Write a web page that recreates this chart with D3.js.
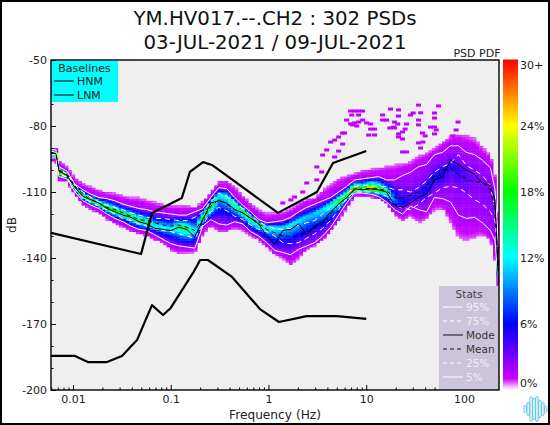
<!DOCTYPE html>
<html><head><meta charset="utf-8">
<script src="https://cdn.jsdelivr.net/npm/d3@7"></script>
<style>html,body{margin:0;padding:0;background:#fff}svg{display:block}text{font-family:"DejaVu Sans",sans-serif;fill:#222}</style>
</head><body><div id="c"></div>
<script>
const titleLines=["YM.HV017.--.CH2 : 302 PSDs","03-JUL-2021 / 09-JUL-2021"];
const freqs=[0.00596,0.0067,0.00719,0.00868,0.01048,0.01265,0.01527,0.01843,0.02225,0.02686,0.03242,0.03913,0.04723,0.0570,0.0688,0.0831,0.1003,0.1210,0.1461,0.1763,0.2128,0.2569,0.3101,0.3743,0.4518,0.5453,0.6583,0.7946,0.9591,1.158,1.398,1.687,2.036,2.458,2.967,3.581,4.323,5.218,6.298,7.602,9.176,11.08,13.37,16.14,19.48,23.51,28.38,34.26,41.35,49.91,60.25,72.72,87.78,105.9,127.9,154.4,186.3,207.5,225];
const envTop=[-89.5,-90,-95.5,-98.5,-103.5,-106,-107.5,-109,-110,-110.5,-111.5,-112.5,-112.5,-113.5,-114.5,-115.5,-116,-116,-116,-117,-114,-110,-105,-104.5,-107.5,-111.5,-115,-118,-119.5,-119.5,-119,-117.5,-115,-113,-112.5,-109,-106.5,-103.5,-102.5,-101.5,-100,-99.5,-99,-98,-97.5,-97,-96,-93.5,-92,-90,-87,-84.5,-83.5,-84,-85.5,-89.5,-93,-102.5,-120.5];
const p95=[-90.5,-91,-98.5,-100.5,-106.5,-109,-111,-112.5,-113,-114,-115.5,-116.5,-117.5,-118,-119,-119.5,-120,-120.5,-120.5,-119,-117.5,-112.5,-108,-108.5,-112.5,-116,-119,-122.5,-124,-123.5,-123,-121.5,-119,-117,-115.5,-114,-112.5,-110,-107.5,-104.5,-104,-103.5,-103,-104.5,-104.5,-102.5,-101,-98.5,-97.5,-93,-92,-89,-89,-92,-93,-95.5,-99,-109,-134];
const p75=[-91.5,-92,-100,-101.5,-107,-110,-112.5,-114.5,-116,-117,-118,-119.5,-120.5,-121.5,-122,-122,-122.5,-123,-123,-121.5,-119,-114.5,-110.5,-112,-115,-117.5,-120.5,-123.5,-125.5,-126.5,-127,-126.5,-125,-124,-123,-120,-117,-113.5,-111,-107.5,-107,-107,-107.5,-107.5,-109,-109,-110,-108,-105,-101,-98.5,-97,-93,-98,-100,-102.5,-107,-118,-142];
const meanDb=[-92,-92.5,-100,-102,-107.5,-111,-113.5,-115,-117,-118,-119.5,-121,-122.5,-123,-124,-125,-125.5,-125,-126,-127.5,-122.5,-116.5,-113.5,-115.5,-118,-119.5,-122,-124.5,-127,-128.5,-130,-130,-130,-128,-126.5,-124.5,-120,-115.5,-112.5,-109,-108.5,-108.5,-108.5,-109.5,-112.5,-112.5,-111.5,-110,-107,-102.5,-100,-99,-102,-104,-105.5,-105.5,-109,-117,-145.5];
const modeDb=[-92.5,-92.5,-100.5,-102.5,-108,-112,-113.5,-115,-117.5,-119,-120.5,-121.5,-123.5,-124.5,-126.5,-127,-127.5,-126,-127,-130.5,-122.5,-115,-114,-115,-118,-119.5,-122,-124.5,-130,-134,-127.5,-127,-124.5,-129.5,-125.5,-123.5,-119,-115.5,-112.5,-108.5,-109,-108.5,-109,-110,-116,-117,-115,-112.5,-111,-104.5,-103,-95.5,-97.5,-100,-102,-106,-107,-113.5,-152];
const p25=[-93,-93,-101.5,-103.5,-108.5,-113,-114.5,-116.5,-118,-120,-122,-123,-124.5,-125.5,-126.5,-127.5,-128,-129,-130,-131,-125,-119,-117,-118.5,-121,-122.5,-125,-127,-128,-130,-133,-133.5,-133,-131,-129,-126.5,-123,-118,-113,-110,-110,-110,-110.5,-112,-115.5,-117.5,-118,-115.5,-112.5,-110.5,-108,-107.5,-108,-110.5,-113.5,-115.5,-119,-123,-148.5];
const p5=[-94.5,-94.5,-103,-104,-110,-114,-116,-117.5,-120,-122,-123.5,-125.5,-127,-127.5,-129.5,-131.5,-133.5,-134.5,-135,-135.5,-125.5,-122.5,-124.5,-125,-123.5,-124.5,-128,-130,-133,-136.5,-137.5,-138.5,-136,-134.5,-133,-130,-126,-120.5,-115,-110.5,-110.5,-111,-112,-114.5,-118,-120,-116.5,-118,-119,-112.5,-113,-114.5,-120.5,-122,-121.5,-124,-127.5,-132,-152];
const envBottom=[-96,-96.5,-105,-105.5,-111.5,-116,-118,-120,-122.5,-124.5,-126,-128,-129,-130,-132,-133,-136.5,-138,-137.5,-137.5,-129.5,-125.5,-128,-128,-126.5,-127.5,-130,-132,-135,-138.5,-140,-143.5,-140,-136,-134.5,-132,-128,-123,-117.5,-111.8,-112,-112.5,-113,-115.5,-120.5,-123,-121,-124,-122,-118,-117.5,-124,-131,-132,-131,-129.5,-132,-142,-154.5];
const ridgeDb=[-92.3,-92.5,-100.3,-102.3,-107.8,-111.5,-113.5,-115,-117.2,-118.5,-120,-121.2,-123,-124,-125.5,-126,-126.5,-125.5,-126.5,-128,-121,-116,-111,-111.5,-115,-118,-122,-124,-125.9,-126,-126,-124.5,-122.7,-120.9,-119.5,-117.7,-115.5,-113.6,-111.4,-108.6,-108.7,-108.5,-108.7,-109.7,-114,-115,-113.5,-111.5,-109,-103.5,-101.5,-97.5,-100,-102,-103.5,-105.7,-108,-115,-149];
const peakPct=[30,30,30,27,20,20,21,19,20,19,17,18,17,16,13,13,12,16,17,12,18,19,12,13,16,18,17,16,14,13,12,12,12,11,11,12,14,18,19,29,20,29,21,16,9,6,5,5,6,6,6,5,5,4,3,3,3,4,8];
const outlierFreq=[6.92,7.6,8.35,9.18,7.1,8.35,6.3,6.92,7.6,8.35,9.18,10.08,11.08,7.2,8.0,11.08,12.17,10.6,12.17,5.73,5.22,6.0,4.32,4.75,5.73,3.94,5.22,3.58,4.75,17.73,21.4,21.4,28.38,30.2,34.2,36,54.83,49.91,49.91,14.69,14.69,16.14,19.48,21,25.83,34.26,34.26,45.43,49.91,19.48,17.4,19,25,23.5,21.4,21.4,23.51,37.63,40,52,49.91,87,83,77,34.26,38,36,23.51,25.83,1.4,1.69,1.85,2.24,2.46,3.12,3.5,3.12];
const outlierDb=[-73.2,-73.2,-73.2,-73.2,-75,-75,-77.3,-79,-78.6,-78.2,-77.3,-78.6,-79.1,-79.5,-80,-81.4,-81.4,-84.1,-84.1,-83.2,-85,-83.2,-87.3,-86.4,-88.2,-90.9,-91.4,-93.2,-94.1,-72.3,-72.7,-75.5,-75,-74.1,-70.5,-74,-70.9,-74.1,-76.4,-75,-77.3,-77.3,-78.2,-79.1,-79.1,-77.3,-79.5,-80.5,-80.5,-80.9,-80.9,-80.5,-81.4,-82.7,-83.6,-85,-85.9,-83.2,-84.5,-81.8,-83.6,-78.2,-81.8,-84.5,-87.7,-87.3,-90,-91.8,-91.8,-115,-113.6,-112.3,-110,-105.9,-98.6,-100.9,-104.5];
const hnmFreq=[0.00596,0.0497,0.0643,0.130,0.157,0.214,0.264,1.25,3.13,4.57,10];
const hnmDb=[-128.6,-138.2,-119.5,-112.7,-100.9,-96.4,-97.7,-119.5,-110,-96.8,-91.4];
const lnmFreq=[0.00596,0.0105,0.0142,0.0223,0.0317,0.0452,0.0643,0.0834,0.1,0.169,0.2,0.24,0.424,0.818,1.28,2.46,5,10];
const lnmDb=[-184.5,-184.5,-187.3,-187.3,-184.5,-177.3,-161.4,-165.9,-162.7,-146.8,-140.9,-140.9,-148.6,-163.2,-169.1,-166.4,-166.4,-167.7];
const xMajor=[0.01,0.1,1,10,100];
const xMinor=[0.006,0.007,0.008,0.009,0.02,0.03,0.04,0.05,0.06,0.07,0.08,0.09,0.2,0.3,0.4,0.5,0.6,0.7,0.8,0.9,2,3,4,5,6,7,8,9,20,30,40,50,60,70,80,90,200];
const xLabels=["0.01","0.1","1","10","100"];
const yMajor=[-50,-80,-110,-140,-170,-200];
const yMinor=[-60,-70,-90,-100,-120,-130,-150,-160,-180,-190];
const cbTicks=[30,24,18,12,6,0];
const cbLabels=["30+","24%","18%","12%","6%","0%"];
const cmapStops=[0,1,6,12,18,24,30];
const cmapColors=["#ffffff","#cc00ff","#0000ff","#00ffff","#00ff00","#ffff00","#ff0000"];
const baseNames=["HNM","LNM"];
const statNames=["95%","75%","Mode","Mean","25%","5%"];
const logoHeights=[7,13,24,21,25,17,13,6];

const W=550,H=425,L=51,R=499,T=60,B=390;
const svg=d3.select("#c").append("svg").attr("width",W).attr("height",H);
const x=d3.scaleLog().domain([0.00596,228]).range([L,R]);
const y=d3.scaleLinear().domain([-200,-50]).range([B,T]);
const color=d3.scaleLinear().domain(cmapStops).range(cmapColors).clamp(true);
const defs=svg.append("defs");
defs.append("clipPath").attr("id","plot").append("rect").attr("x",L).attr("y",T).attr("width",R-L).attr("height",B-T);
defs.append("filter").attr("id","soft").attr("x","-2%").attr("y","-2%").attr("width","104%").attr("height","104%")
  .append("feGaussianBlur").attr("stdDeviation",0.4);

svg.append("rect").attr("x",L).attr("y",T).attr("width",R-L).attr("height",B-T).attr("fill","#efefef");

/* PDF raster: each cell's probability is read from the per-frequency anchors */
const at=a=>d3.scaleLog().domain(freqs).range(a);
const sTop=at(envTop),s95=at(p95),sRidge=at(ridgeDb),s5=at(p5),sBot=at(envBottom),sPeak=at(peakPct);
const cells=[];
const cellW=3.4,cellDb=1;
const cellH=y(0)-y(cellDb);
d3.range(L,R,cellW).forEach(px=>{
  const f=x.invert(px+cellW/2);
  const pk=sPeak(f);
  const rd=sRidge(f);
  const dom=[sBot(f),s5(f),(s5(f)+rd)/2,rd,(rd+s95(f))/2,s95(f),sTop(f)];
  for(let i=1;i<dom.length;i++) if(dom[i]<=dom[i-1]) dom[i]=dom[i-1]+0.05;
  const mid=Math.max(2.4,pk*0.5);
  const dens=d3.scaleLinear().domain(dom).range([0.6,1.9,mid,pk,mid,1.9,0.6]);
  for(let d=Math.floor(dom[0]);d<=Math.ceil(dom[6]);d+=cellDb){
    if(d+0.5<dom[0]||d+0.5>dom[6]) continue;
    cells.push({f,px,d,v:dens(d+0.5)});
  }
});
const pdf=svg.append("g").attr("clip-path","url(#plot)").append("g").attr("filter","url(#soft)");
pdf.selectAll("rect.c").data(cells).join("rect").attr("class","c")
  .attr("x",c=>c.px).attr("y",c=>y(c.d+cellDb)).attr("width",cellW+0.4).attr("height",cellH+0.4)
  .attr("fill",c=>color(c.v));
pdf.selectAll("rect.o").data(outlierFreq).join("rect").attr("class","o")
  .attr("x",(f,i)=>x(f)-2.5).attr("y",(f,i)=>y(outlierDb[i])-1.5).attr("width",5).attr("height",3)
  .attr("fill",color(1.2));

const plot=svg.append("g").attr("clip-path","url(#plot)");
const line=(fs,vs)=>d3.line().x((d,i)=>x(fs[i])).y(d=>y(d))(vs);
const drawLine=(fs,vs,col,w,dash)=>plot.append("path").attr("d",line(fs,vs)).attr("fill","none")
  .attr("stroke",col).attr("stroke-width",w).attr("stroke-dasharray",dash||null).attr("stroke-linejoin","round");
drawLine(freqs,p95,"#fff",1);
drawLine(freqs,p75,"#fff",1,"5 4");
drawLine(freqs,p25,"#fff",1,"5 4");
drawLine(freqs,p5,"#fff",1);
drawLine(freqs,meanDb,"#000",1,"4 3.5");
drawLine(freqs,modeDb,"#000",1);
drawLine(hnmFreq,hnmDb,"#000",2.2);
drawLine(lnmFreq,lnmDb,"#000",2.2);

/* axes */
const xa=svg.append("g").attr("transform",`translate(0,${B})`);
xa.call(d3.axisBottom(x).tickValues(xMajor).tickSize(-5).tickPadding(5).tickFormat((d,i)=>xLabels[i]));
const xb=svg.append("g").attr("transform",`translate(0,${B})`);
xb.call(d3.axisBottom(x).tickValues(xMinor).tickSize(-2.5).tickFormat(""));
const ya=svg.append("g").attr("transform",`translate(${L},0)`);
ya.call(d3.axisLeft(y).tickValues(yMajor).tickSize(-5).tickPadding(4).tickFormat(d=>String(d)));
const yb=svg.append("g").attr("transform",`translate(${L},0)`);
yb.call(d3.axisLeft(y).tickValues(yMinor).tickSize(-2.5).tickFormat(""));
svg.selectAll(".domain").remove();
svg.selectAll(".tick text").attr("font-size",11).style("font-family",'"DejaVu Sans"').style("fill","#222");
svg.selectAll(".tick line").attr("stroke","#000");

/* baselines legend */
svg.append("rect").attr("x",L).attr("y",T+1).attr("width",67).attr("height",41).attr("fill","#00ffff");
svg.append("text").attr("x",84.5).attr("y",71.5).attr("text-anchor","middle").attr("font-size",11).text("Baselines");
baseNames.forEach((n,i)=>{
  const yy=81+i*14;
  svg.append("line").attr("x1",54).attr("x2",74).attr("y1",yy).attr("y2",yy).attr("stroke","#000").attr("stroke-width",1);
  svg.append("text").attr("x",77).attr("y",yy+3.9).attr("font-size",11).text(n);
});

/* stats legend */
svg.append("rect").attr("x",439).attr("y",286).attr("width",60).attr("height",104).attr("fill","#ccc5da");
svg.append("text").attr("x",469).attr("y",298).attr("text-anchor","middle").attr("font-size",10.5).style("fill","#444").text("Stats");
statNames.forEach((n,i)=>{
  const yy=307+i*14, dark=(n==="Mode"||n==="Mean"), dash=(n==="75%"||n==="25%"||n==="Mean");
  svg.append("line").attr("x1",443).attr("x2",463).attr("y1",yy).attr("y2",yy)
    .attr("stroke",dark?"#111":"#fff").attr("stroke-width",1).attr("stroke-dasharray",dash?"4 3":null);
  svg.append("text").attr("x",466).attr("y",yy+3.8).attr("font-size",10.5).style("fill",dark?"#333":"#eee").text(n);
});

/* frame */
svg.append("rect").attr("x",L).attr("y",T).attr("width",R-L).attr("height",B-T).attr("fill","none").attr("stroke","#000").attr("stroke-width",1.4);

/* colorbar */
const cb=d3.scaleLinear().domain([0,30]).range([B,T]);
const cbRows=d3.range(0,30,30/330);
svg.append("g").selectAll("rect").data(cbRows).join("rect")
  .attr("x",503).attr("width",15).attr("y",d=>cb(d)-1.5).attr("height",1.6).attr("fill",d=>color(d));
cbTicks.forEach((t,i)=>{
  const yy=t===30?cb(t)+9:(t===0?cb(t)-3:cb(t)+3.8);
  svg.append("text").attr("x",520).attr("y",yy).attr("font-size",11).text(cbLabels[i]);
});

/* titles */
svg.append("text").attr("x",275).attr("y",25).attr("text-anchor","middle").attr("font-size",19.8).style("fill","#111").text(titleLines[0]);
svg.append("text").attr("x",275).attr("y",49).attr("text-anchor","middle").attr("font-size",19.8).style("fill","#111").text(titleLines[1]);
svg.append("text").attr("x",477).attr("y",57).attr("text-anchor","middle").attr("font-size",11).text("PSD PDF");
svg.append("text").attr("x",275).attr("y",419).attr("text-anchor","middle").attr("font-size",12.2).text("Frequency (Hz)");
svg.append("text").attr("transform","translate(16,225) rotate(-90)").attr("text-anchor","middle").attr("font-size",12.2).text("dB");

/* logo */
const lx=d3.scaleBand().domain(d3.range(logoHeights.length)).range([524,547]).paddingInner(0.15);
svg.append("g").selectAll("rect").data(logoHeights).join("rect")
  .attr("x",(d,i)=>lx(i)).attr("width",lx.bandwidth()).attr("y",d=>409-d/2).attr("height",d=>d).attr("rx",1.3)
  .attr("fill","#f2fbfd").attr("stroke","#55bcd8").attr("stroke-width",0.9);

/* outer border */
svg.append("rect").attr("x",0).attr("y",0).attr("width",W).attr("height",H).attr("fill","none").attr("stroke","#000").attr("stroke-width",4);
</script></body></html>
